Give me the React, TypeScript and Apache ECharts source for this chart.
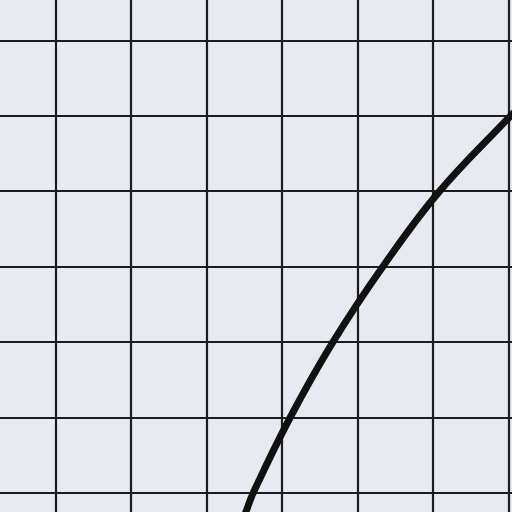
import React, { useEffect, useRef } from "react";
import * as echarts from "echarts";

// Curve points in grid-square units (x right, y up)
const curveX = [3.42, 3.52, 3.62, 4.11, 4.67, 5.33, 6.08, 7.01, 7.08];
const curveY = [0.5, 0.74, 1.0, 2.0, 2.99, 3.99, 4.99, 5.98, 6.05];

export default function App() {
  const ref = useRef<HTMLDivElement>(null);
  useEffect(() => {
    document.body.style.margin = "0";
    document.body.style.overflow = "hidden";
    document.documentElement.style.overflow = "hidden";
    const chart = echarts.init(ref.current!, undefined, { renderer: "svg" });
    const data = curveX.map((x, i) => [x, curveY[i]]);
    chart.setOption({
      animation: false,
      backgroundColor: "#e8eaf2",
      grid: { left: 0, top: 0, right: 0, bottom: 0, containLabel: false },
      xAxis: {
        type: "value",
        min: 0,
        max: 8,
        interval: 1,
        axisLine: { show: false },
        axisTick: { show: false },
        axisLabel: { show: false },
        splitLine: { show: true, lineStyle: { color: "#1c1c1e", width: 2.2 } },
      },
      yAxis: {
        type: "value",
        min: 0,
        max: 8,
        interval: 1,
        axisLine: { show: false },
        axisTick: { show: false },
        axisLabel: { show: false },
        splitLine: { show: true, lineStyle: { color: "#1c1c1e", width: 2.2 } },
      },
      series: [
        {
          type: "line",
          data,
          smooth: 0.4,
          symbol: "none",
          lineStyle: { color: "#111111", width: 7 },
        },
      ],
    });
    return () => chart.dispose();
  }, []);
  return (
    <div style={{ position: "fixed", left: 0, top: 0, width: 512, height: 512, overflow: "hidden" }}>
      <div
        ref={ref}
        style={{ position: "absolute", left: -20.5, top: -35.5, width: 604, height: 603 }}
      />
    </div>
  );
}
